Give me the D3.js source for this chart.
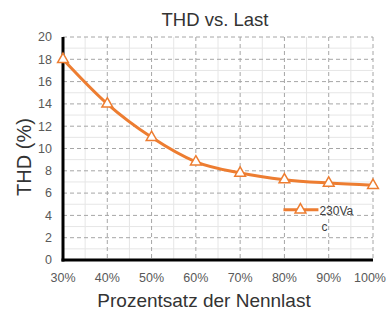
<!DOCTYPE html>
<html>
<head>
<meta charset="utf-8">
<script src="https://cdn.jsdelivr.net/npm/d3@7"></script>
<style>
  body { margin: 0; background: #fff; }
  text { font-family: 'Liberation Sans', Arial, sans-serif; }
</style>
</head>
<body>
<div id="chart"></div>
<script>
var categories = ['30%', '40%', '50%', '60%', '70%', '80%', '90%', '100%']
var thdValues = [18, 14, 11, 8.8, 7.8, 7.2, 6.9, 6.7]
var yTicks = [0, 2, 4, 6, 8, 10, 12, 14, 16, 18, 20]
var seriesName = ['230Va', 'c']

var margin = {top: 37, right: 14, bottom: 56, left: 63}
var width = 387 - margin.left - margin.right
var height = 316 - margin.top - margin.bottom

var svg = d3
  .select('#chart')
  .append('svg')
  .attr('width', 387)
  .attr('height', 316)

var g = svg
  .append('g')
  .attr('transform', 'translate(' + margin.left + ',' + margin.top + ')')

var x = d3.scalePoint().domain(categories).range([0, width])
var y = d3.scaleLinear().domain([0, 20]).range([height, 0])

var step = x.step()

// light minor grid
var minorX = categories.slice(0, -1).map((c) => x(c) + step / 2)
g.selectAll('.minor-x')
  .data(minorX)
  .enter()
  .append('line')
  .attr('x1', (d) => d)
  .attr('x2', (d) => d)
  .attr('y1', 0)
  .attr('y2', height)
  .attr('stroke', '#e6e6e6')
  .attr('stroke-width', 1)

g.selectAll('.minor-y')
  .data(yTicks.slice(0, -1).map((d) => d + 1))
  .enter()
  .append('line')
  .attr('x1', 0)
  .attr('x2', width)
  .attr('y1', (d) => y(d))
  .attr('y2', (d) => y(d))
  .attr('stroke', '#e6e6e6')
  .attr('stroke-width', 1)

// dashed major grid
g.selectAll('.grid-y')
  .data(yTicks.slice(1))
  .enter()
  .append('line')
  .attr('x1', 0)
  .attr('x2', width)
  .attr('y1', (d) => y(d))
  .attr('y2', (d) => y(d))
  .attr('stroke', '#a6a6a6')
  .attr('stroke-width', 1)
  .attr('stroke-dasharray', '4,3')

g.selectAll('.grid-x')
  .data(categories.slice(1))
  .enter()
  .append('line')
  .attr('x1', (d) => x(d))
  .attr('x2', (d) => x(d))
  .attr('y1', 0)
  .attr('y2', height)
  .attr('stroke', '#a6a6a6')
  .attr('stroke-width', 1)
  .attr('stroke-dasharray', '4,3')

// axes lines
g.append('line')
  .attr('x1', 0).attr('x2', 0)
  .attr('y1', 0).attr('y2', height + 1.5)
  .attr('stroke', '#000').attr('stroke-width', 3)
g.append('line')
  .attr('x1', -1.5).attr('x2', width)
  .attr('y1', height).attr('y2', height)
  .attr('stroke', '#000').attr('stroke-width', 3)

// tick labels
g.selectAll('.y-label')
  .data(yTicks)
  .enter()
  .append('text')
  .attr('x', -11)
  .attr('y', (d) => y(d))
  .attr('dy', '0.35em')
  .attr('text-anchor', 'end')
  .attr('font-size', 12.5)
  .attr('fill', '#595959')
  .text((d) => d)

// last label pulled in a touch so it stays inside the page
g.selectAll('.x-label')
  .data(categories)
  .enter()
  .append('text')
  .attr('x', (d, i) => (i === categories.length - 1 ? width + 13 : x(d)))
  .attr('y', height + 22)
  .attr('text-anchor', (d, i) => (i === categories.length - 1 ? 'end' : 'middle'))
  .attr('font-size', 12.5)
  .attr('fill', '#595959')
  .text((d) => d)

// series line
var line = d3
  .line()
  .x((d, i) => x(categories[i]))
  .y((d) => y(d))
  .curve(d3.curveMonotoneX)

g.append('path')
  .datum(thdValues)
  .attr('d', line)
  .attr('fill', 'none')
  .attr('stroke', '#ed7d31')
  .attr('stroke-width', 3)

var tri = d3.symbol().type(d3.symbolTriangle).size(50)

g.selectAll('.marker')
  .data(thdValues)
  .enter()
  .append('path')
  .attr('d', tri)
  .attr('transform', (d, i) => 'translate(' + x(categories[i]) + ',' + y(d) + ')')
  .attr('fill', '#fff')
  .attr('stroke', '#ed7d31')
  .attr('stroke-width', 1.5)

// legend
var lg = g.append('g').attr('transform', 'translate(' + (x('80%') - 1) + ',' + y(4.5) + ')')
lg.append('line')
  .attr('x1', 0).attr('x2', 35)
  .attr('y1', 0).attr('y2', 0)
  .attr('stroke', '#ed7d31').attr('stroke-width', 3)
lg.append('path')
  .attr('d', tri)
  .attr('transform', 'translate(17,0)')
  .attr('fill', '#fff')
  .attr('stroke', '#ed7d31')
  .attr('stroke-width', 1.5)
lg.selectAll('.legend-text')
  .data(seriesName)
  .enter()
  .append('text')
  .attr('x', (d, i) => (i === 0 ? 36 : 38))
  .attr('y', (d, i) => 5 + i * 16)
  .attr('font-size', 12)
  .attr('fill', '#404040')
  .text((d) => d)

// titles
svg.append('text')
  .attr('x', 215)
  .attr('y', 26)
  .attr('text-anchor', 'middle')
  .attr('font-size', 18.5)
  .attr('fill', '#333')
  .text('THD vs. Last')

svg.append('text')
  .attr('x', 204)
  .attr('y', 307)
  .attr('text-anchor', 'middle')
  .attr('font-size', 19)
  .attr('fill', '#333')
  .text('Prozentsatz der Nennlast')

svg.append('text')
  .attr('transform', 'translate(31,157) rotate(-90)')
  .attr('text-anchor', 'middle')
  .attr('font-size', 20)
  .attr('fill', '#333')
  .text('THD (%)')
</script>
</body>
</html>
